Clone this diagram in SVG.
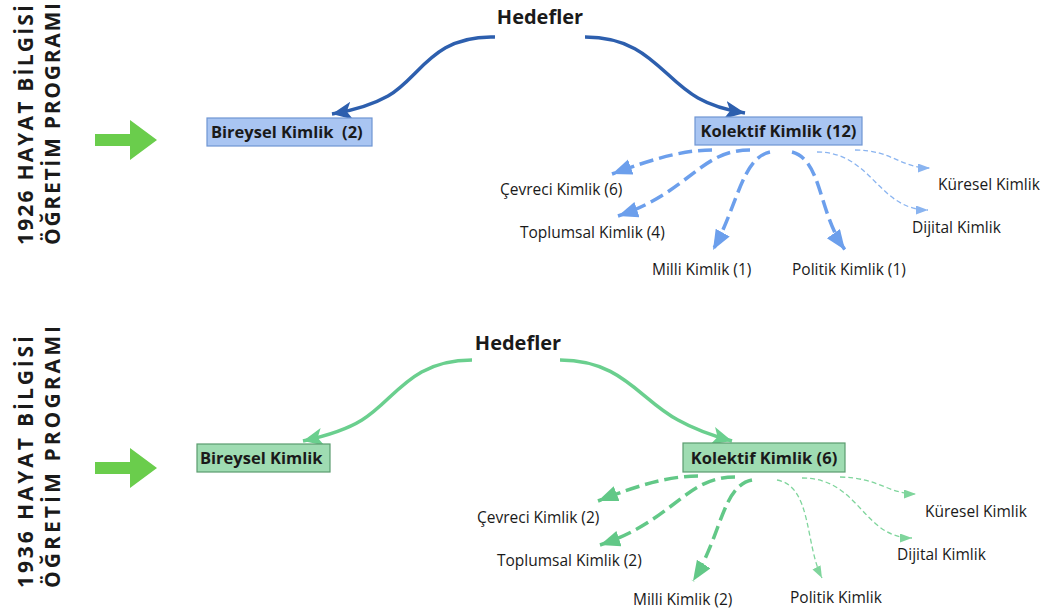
<svg xmlns="http://www.w3.org/2000/svg" width="1045" height="612" viewBox="0 0 1045 612">
<style>
text{font-family:"Open Sans","Liberation Sans",Arial,sans-serif;fill:#1a1a1a}
.side{font-size:21px;font-weight:bold}
.hed{font-size:20px;font-weight:bold}
.box{font-size:16.5px;font-weight:bold}
.lbl{font-size:15.5px}
.bmain{fill:none;stroke:#2d5fae;stroke-width:3.5}
.bdash{fill:none;stroke:#6c9fec;stroke-width:3.5;stroke-dasharray:14 6}
.bthin{fill:none;stroke:#8ab4f0;stroke-width:1.3;stroke-dasharray:5 3}
.gmain{fill:none;stroke:#6acf8e;stroke-width:3.5}
.gdash{fill:none;stroke:#62c887;stroke-width:3.5;stroke-dasharray:14 6}
.gthin{fill:none;stroke:#7fd59c;stroke-width:1.3;stroke-dasharray:5 3}
.bbox{fill:#a9c5f2;stroke:#6f95d3;stroke-width:1.2}
.gbox{fill:#9fdcb2;stroke:#5a9c6e;stroke-width:1.2}
</style>
<defs>
<marker id="hB" markerUnits="userSpaceOnUse" markerWidth="24" markerHeight="20" refX="20" refY="9" orient="auto"><path d="M0,0 L20,9 L0,18 L5,9 Z" fill="#2d5fae"/></marker>
<marker id="hBd" markerUnits="userSpaceOnUse" markerWidth="24" markerHeight="20" refX="20" refY="8" orient="auto"><path d="M0,0 L20,8 L0,16 Z" fill="#6c9fec"/></marker>
<marker id="hBt" markerUnits="userSpaceOnUse" markerWidth="14" markerHeight="10" refX="12" refY="4.5" orient="auto"><path d="M0,0 L12,4.5 L0,9 Z" fill="#8ab4f0"/></marker>
<marker id="hG" markerUnits="userSpaceOnUse" markerWidth="24" markerHeight="20" refX="20" refY="9" orient="auto"><path d="M0,0 L20,9 L0,18 L5,9 Z" fill="#6acf8e"/></marker>
<marker id="hGd" markerUnits="userSpaceOnUse" markerWidth="24" markerHeight="20" refX="20" refY="8" orient="auto"><path d="M0,0 L20,8 L0,16 Z" fill="#62c887"/></marker>
<marker id="hGt" markerUnits="userSpaceOnUse" markerWidth="14" markerHeight="10" refX="12" refY="4.5" orient="auto"><path d="M0,0 L12,4.5 L0,9 Z" fill="#7fd59c"/></marker>
<path id="garrow" d="M0,-6 L35,-6 L35,-20 L62,0 L35,20 L35,6 L0,6 Z" fill="#6acd4c"/>
</defs>
<rect width="1045" height="612" fill="#ffffff"/>

<g id="titles">
<text class="side" transform="translate(33,245) rotate(-90)" textLength="240" lengthAdjust="spacing">1926 HAYAT BİLGİSİ</text>
<text class="side" transform="translate(60,245) rotate(-90)" textLength="242" lengthAdjust="spacing">ÖĞRETİM PROGRAMI</text>
<text class="side" transform="translate(33,588) rotate(-90)" textLength="252" lengthAdjust="spacing">1936 HAYAT BİLGİSİ</text>
<text class="side" transform="translate(60,588) rotate(-90)" textLength="262" lengthAdjust="spacing">ÖĞRETİM PROGRAMI</text>
</g>

<g id="arrow-1926"><use href="#garrow" x="95" y="140"/></g>
<g id="arrow-1936"><use href="#garrow" x="95" y="468"/></g>

<g id="connectors">
<path class="bmain" marker-end="url(#hB)" d="M495,37 C432,35 420,78 388,96 C372,105 356,110 332,114"/>
<path class="bmain" marker-end="url(#hB)" d="M585,37 C648,37 662,78 698,98 C712,106 726,110 745,113"/>
<path class="bdash" marker-end="url(#hBd)" d="M712,150 C682,150 650,160 612,174"/>
<path class="bdash" marker-end="url(#hBd)" d="M750,150 C700,150 690,192 618,216"/>
<path class="bdash" marker-end="url(#hBd)" d="M770,152 C742,158 738,205 713,250"/>
<path class="bdash" marker-end="url(#hBd)" d="M792,152 C822,160 818,212 845,250"/>
<path class="bthin" marker-end="url(#hBt)" d="M855,150 C892,150 900,168 930,168"/>
<path class="bthin" marker-end="url(#hBt)" d="M817,152 C872,152 878,210 928,210"/>

<path class="gmain" marker-end="url(#hG)" d="M472,360 C410,360 395,400 362,420 C346,430 326,436 303,441"/>
<path class="gmain" marker-end="url(#hG)" d="M560,360 C622,360 640,400 678,420 C694,429 710,435 732,441"/>
<path class="gdash" marker-end="url(#hGd)" d="M698,476 C668,476 636,486 598,501"/>
<path class="gdash" marker-end="url(#hGd)" d="M735,477 C685,477 675,520 600,545"/>
<path class="gdash" marker-end="url(#hGd)" d="M752,480 C722,486 722,535 693,581"/>
<path class="gthin" marker-end="url(#hGt)" d="M777,480 C812,486 805,545 822,578"/>
<path class="gthin" marker-end="url(#hGt)" d="M840,477 C880,478 888,494 916,494"/>
<path class="gthin" marker-end="url(#hGt)" d="M802,478 C860,478 862,538 912,538"/>
</g>

<g id="hedefler-1926"><text class="hed" x="540" y="24" text-anchor="middle">Hedefler</text></g>
<g id="bireysel-1926"><rect class="bbox" x="207" y="118" width="165" height="28"/><text class="box" x="211" y="138">Bireysel Kimlik&#160; (2)</text></g>
<g id="kolektif-1926"><rect class="bbox" x="695" y="117" width="167" height="28"/><text class="box" x="778.5" y="137" text-anchor="middle">Kolektif Kimlik (12)</text></g>
<g id="cevreci-1926"><text class="lbl" x="500" y="195">Çevreci Kimlik (6)</text></g>
<g id="toplumsal-1926"><text class="lbl" x="520" y="238">Toplumsal Kimlik (4)</text></g>
<g id="milli-1926"><text class="lbl" x="652" y="275">Milli Kimlik (1)</text></g>
<g id="politik-1926"><text class="lbl" x="792" y="275">Politik Kimlik (1)</text></g>
<g id="kuresel-1926"><text class="lbl" x="938" y="190">Küresel Kimlik</text></g>
<g id="dijital-1926"><text class="lbl" x="912" y="233">Dijital Kimlik</text></g>

<g id="hedefler-1936"><text class="hed" x="518" y="350" text-anchor="middle">Hedefler</text></g>
<g id="bireysel-1936"><rect class="gbox" x="197" y="444" width="133" height="28"/><text class="box" x="200" y="464">Bireysel Kimlik</text></g>
<g id="kolektif-1936"><rect class="gbox" x="683" y="443" width="162" height="29"/><text class="box" x="764" y="463.5" text-anchor="middle">Kolektif Kimlik (6)</text></g>
<g id="cevreci-1936"><text class="lbl" x="477" y="523">Çevreci Kimlik (2)</text></g>
<g id="toplumsal-1936"><text class="lbl" x="497" y="566">Toplumsal Kimlik (2)</text></g>
<g id="milli-1936"><text class="lbl" x="633" y="605">Milli Kimlik (2)</text></g>
<g id="politik-1936"><text class="lbl" x="790" y="603">Politik Kimlik</text></g>
<g id="kuresel-1936"><text class="lbl" x="925" y="517">Küresel Kimlik</text></g>
<g id="dijital-1936"><text class="lbl" x="897" y="560">Dijital Kimlik</text></g>
</svg>
